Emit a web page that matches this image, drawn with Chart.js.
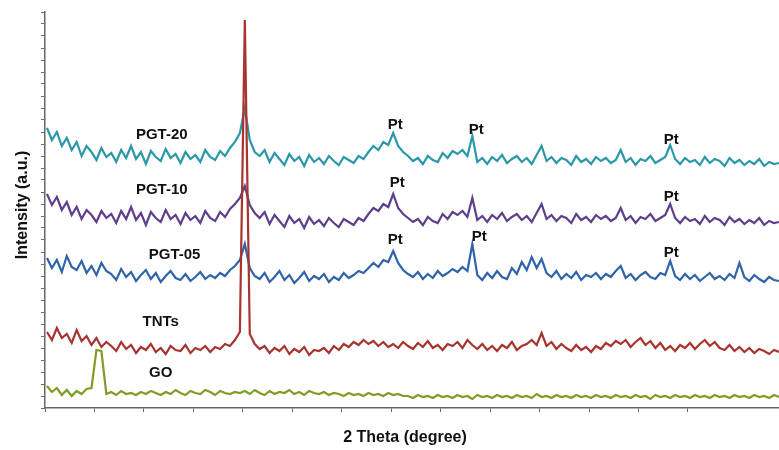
<!DOCTYPE html>
<html>
<head>
<meta charset="utf-8">
<script src="https://cdn.jsdelivr.net/npm/chart.js@4.4.1/dist/chart.umd.min.js"></script>
<style>
  html, body { margin: 0; padding: 0; background: #fff; }
  #wrap { width: 779px; height: 450px; }
</style>
</head>
<body>
<div id="wrap"><canvas id="xrdChart" width="779" height="450"></canvas></div>
<script>
// 2 theta sampling (degrees), one reading every 0.5 deg
const startAngle = 5.2;
const stepAngle = 0.5;
const pointCount = 149;
const twoTheta = Array.from({ length: pointCount }, (_, i) => +(startAngle + stepAngle * i).toFixed(1));

// Intensities (a.u., traces already offset as in the figure)
const pgt20 = [
    280, 268, 276, 262, 270, 258, 266, 252, 262, 256, 248, 260, 251,
    255, 246, 258, 250, 262, 249, 256, 244, 257, 251, 247, 259, 250, 254, 245, 256, 249, 253, 246, 258, 251, 248, 257, 252, 260, 266,
    275, 300, 268, 256,
    252, 258, 246, 255, 249, 243, 254, 247, 251, 242, 253, 246, 250, 244, 252, 247, 243, 251, 248, 245, 252, 249,
    256, 262, 258, 266, 263,
    275,
    262, 256, 252,
    247, 250, 244, 252, 248, 246, 255, 250, 257,
    254, 258, 252,
    272,
    246, 250, 244, 251, 247, 253, 245, 249, 252, 246, 250, 244, 253,
    262,
    247, 251, 245, 250, 248, 243, 252, 246, 249, 244, 251, 247, 250, 245, 248,
    258,
    246, 250, 243, 249, 247, 252, 245, 248, 251,
    263,
    249, 244, 250, 246, 248, 243, 251, 245, 249, 247, 242, 250, 245, 248, 243, 247, 244, 249, 242, 246, 244, 245
];

const pgt10 = [
    214, 203, 211, 198, 206, 193, 201, 189, 198, 193, 186, 197, 190,
    194, 185, 197, 189, 201, 188, 195, 183, 196, 190, 186, 198, 189, 193, 184, 195, 188, 192, 185, 197, 190, 187, 196, 191, 199, 204,
    210, 222, 203, 195,
    190, 196, 184, 193, 187, 181, 192, 185, 189, 180, 191, 184, 188, 182, 190, 185, 181, 189, 186, 183, 190, 187,
    194, 200, 197, 204, 201,
    214,
    200, 194, 190,
    186, 189, 183, 191, 187, 185, 194, 189, 196,
    193, 197, 191,
    210,
    188, 192, 186, 193, 189, 195, 187, 191, 194, 188, 192, 186, 195,
    204,
    189, 193, 187, 192, 190, 185, 194, 188, 191, 186, 193, 189, 192, 187, 190,
    200,
    188, 192, 185, 191, 189, 194, 187, 190, 193,
    204,
    190, 185, 191, 187, 189, 184, 192, 186, 190, 188, 183, 191, 186, 189, 184, 188, 185, 190, 183, 187, 185, 186
];

const pgt05 = [
    150, 140, 148, 136, 152, 141, 138, 147, 135, 142, 133, 145, 137,
    134, 128, 139, 131, 136, 127, 133, 138, 129, 135, 126, 132, 137, 130, 128, 134, 127, 131, 136, 129, 133, 130, 135, 132, 138, 142,
    148, 164, 140, 132,
    129, 135, 126, 131, 137, 128, 133, 125, 130, 136, 127, 132, 129, 134, 126, 131, 128, 135, 130, 133, 137, 135,
    140, 145, 141, 148, 146,
    157,
    145, 138, 134,
    131, 136, 129, 134, 130, 137, 132, 135, 139,
    136, 141, 137,
    164,
    133, 128, 135, 130, 137, 131, 129, 140, 134, 146, 138, 151, 140,
    149,
    135, 131, 137, 129, 134, 130, 136, 128, 133, 131, 135, 129, 134, 131, 137,
    142,
    130, 134, 128, 133, 136, 131, 129, 135, 133,
    147,
    132, 128, 134, 129, 133, 127, 131, 135, 129, 132, 128, 134, 130, 145, 131, 127, 133, 129, 126, 131, 128, 127
];

const tnts = [
    76, 68, 80, 70, 74, 65, 78, 67, 72, 63, 70, 61, 66,
    62, 57, 66, 59, 63, 55, 61, 58, 64, 56, 60, 54, 62, 58, 57, 63, 55, 60, 58, 62, 56, 61, 59, 64, 62, 68,
    76, 388, 74, 64,
    59, 62, 55, 60, 57, 62, 54, 59, 56, 61, 53, 58, 57, 60, 55, 62, 58, 64, 61, 66, 63, 68,
    64, 67, 62, 66, 61,
    64, 60, 66, 62,
    59, 65, 61, 67, 60, 63, 58, 64, 62,
    66, 60, 68, 63,
    59, 64, 58, 62, 57, 63, 60, 66, 58, 62, 64, 68, 63,
    75, 62, 66, 59, 64, 60, 57, 63, 58, 61, 56, 62, 59, 65, 62, 67,
    64, 68, 61, 66, 70, 63, 67, 60, 65, 58, 62,
    57, 63, 60, 65, 59, 64, 68, 62, 66, 60, 58, 63, 57, 61, 56, 60, 55, 59, 57, 54, 58, 56
];

const go = [
    22, 16, 20, 13, 18, 12, 17, 14, 19, 20,
    58, 57,
    14, 16, 13, 17, 14, 15, 13, 16, 14, 17, 15, 13, 16, 14, 18, 15, 13, 17, 15, 14, 18, 16, 13, 17, 15, 14, 16,
    15, 17, 14, 18, 15, 13, 17, 14, 16, 15, 18, 14, 16, 13, 17, 15, 14, 16, 13, 15, 14, 12, 15, 13, 14, 12, 15, 13, 14, 12, 15, 13, 14, 12,
    12, 10, 13, 11, 12, 10, 13, 11, 12, 10, 13, 11, 12, 9, 13, 11, 12, 10, 13, 11,
    12, 10, 13, 11, 12, 10, 14, 11, 12, 10, 13, 11, 12, 10, 13, 11, 12, 10, 13, 11,
    12, 10, 13, 11, 12, 10, 13, 11, 12, 9, 13, 11, 12, 10, 13, 11, 12, 10, 13, 11,
    12, 10, 13, 11, 12, 10, 13, 11, 12, 10, 13, 11, 12, 10, 13, 11
];

const seriesNames = ['TNTs', 'GO', 'PGT-05', 'PGT-10', 'PGT-20'];
const seriesValues = [tnts, go, pgt05, pgt10, pgt20];
const seriesColors = ['#a8342f', '#7f9d25', '#2f64a8', '#5e3f8c', '#2b98a9'];

// text labels on the plot: [text, 2theta, intensity]
const traceLabels = [
    ['PGT-20', 16.8, 273],
    ['PGT-10', 16.8, 218],
    ['PGT-05', 18.1, 153],
    ['TNTs', 16.7, 86],
    ['GO', 16.7, 35]
];
const ptLabels = [
    ['Pt', 40.4, 283], ['Pt', 48.6, 278], ['Pt', 68.3, 268],
    ['Pt', 40.6, 225], ['Pt', 68.3, 211],
    ['Pt', 40.4, 168], ['Pt', 48.9, 171], ['Pt', 68.3, 155]
];

const textPlugin = {
    id: 'xrdText',
    afterDatasetsDraw(chart) {
        const ctx = chart.ctx;
        const xs = chart.scales.x;
        const ys = chart.scales.y;
        ctx.save();
        ctx.fillStyle = '#111';
        ctx.textAlign = 'center';
        ctx.textBaseline = 'middle';
        ctx.font = 'bold 15px "Liberation Sans", Arial, sans-serif';
        traceLabels.concat(ptLabels).forEach(([txt, a, b]) => {
            ctx.fillText(txt, xs.getPixelForValue(a), ys.getPixelForValue(b));
        });

        // axis titles
        const area = chart.chartArea;
        ctx.font = 'bold 16px "Liberation Sans", Arial, sans-serif';
        ctx.fillText('2 Theta (degree)', 405, area.bottom + 30);
        ctx.translate(23, 205);
        ctx.rotate(-Math.PI / 2);
        ctx.font = 'bold 16px "Liberation Sans", Arial, sans-serif';
        ctx.fillText('Intensity (a.u.)', 0, 0);
        ctx.restore();
    }
};

new Chart(document.getElementById('xrdChart'), {
    type: 'line',
    data: {
        labels: twoTheta,
        datasets: seriesNames.map((name, i) => ({
            label: name,
            data: seriesValues[i].map((v, j) => ({ x: twoTheta[j], y: v })),
            borderColor: seriesColors[i],
            borderWidth: 2.2,
            pointRadius: 0,
            tension: 0,
            fill: false
        }))
    },
    options: {
        responsive: false,
        animation: false,
        devicePixelRatio: 1,
        layout: { padding: { top: 12, right: 0, left: 0, bottom: 0 } },
        plugins: {
            legend: { display: false },
            tooltip: { enabled: false }
        },
        scales: {
            x: {
                type: 'linear',
                min: 5,
                max: 79.2,
                ticks: { display: false, stepSize: 5 },
                grid: { drawOnChartArea: false, drawTicks: true, tickLength: 4, color: '#666' },
                border: { display: true, color: '#666', width: 1.5 },
                afterFit: scale => { scale.height = 42; }
            },
            y: {
                min: 0,
                max: 396,
                ticks: { display: false, stepSize: 12 },
                grid: { drawOnChartArea: false, drawTicks: true, tickLength: 4, color: '#666' },
                border: { display: true, color: '#666', width: 1.5 },
                afterFit: scale => { scale.width = 45; }
            }
        }
    },
    plugins: [textPlugin]
});
</script>
</body>
</html>
